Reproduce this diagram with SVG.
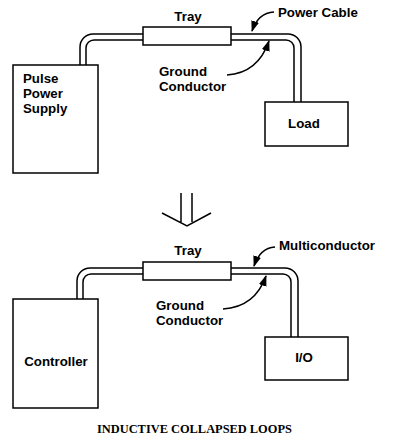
<svg xmlns="http://www.w3.org/2000/svg" width="412" height="442" viewBox="0 0 412 442">
<style>
.box{fill:#fff;stroke:#000;stroke-width:1.5}
.ln{fill:none;stroke:#000;stroke-width:1.5}
.t{font-family:"Liberation Sans",Arial,sans-serif;font-weight:bold;font-size:13.3px;fill:#000}
.cap{font-family:"Liberation Serif","Times New Roman",serif;font-weight:bold;font-size:12.4px;fill:#000}
</style>
<defs>
<marker id="ah" markerUnits="userSpaceOnUse" markerWidth="11" markerHeight="8" refX="10" refY="4" orient="auto">
<path d="M0,0 L11,4 L0,8 z" fill="#000"/>
</marker>
</defs>
<rect width="412" height="442" fill="#fff"/>
<g id="connectors">
<path class="ln" d="M80,65 V47 A13,13 0 0 1 93,34 H143"/>
<path class="ln" d="M86,65 V48 A8,8 0 0 1 94,40 H143"/>
<path class="ln" d="M231,34 H288 A13,13 0 0 1 301,47 V102"/>
<path class="ln" d="M231,40 H286 A8,8 0 0 1 294,48 V102"/>
<path class="ln" d="M77,299 V281 A13,13 0 0 1 90,268 H143"/>
<path class="ln" d="M83,299 V282 A8,8 0 0 1 91,274 H143"/>
<path class="ln" d="M231,268 H285 A13,13 0 0 1 298,281 V337"/>
<path class="ln" d="M231,274 H283 A8,8 0 0 1 291,282 V337"/>
<path class="ln" d="M274,12 Q258,13 252,31" marker-end="url(#ah)"/>
<path class="ln" d="M227,75 Q258,73 269,41" marker-end="url(#ah)"/>
<path class="ln" d="M275,247 Q260,248 254,266" marker-end="url(#ah)"/>
<path class="ln" d="M223,309 Q255,307 266,276" marker-end="url(#ah)"/>
</g>
<g id="pulse-power-supply">
<rect class="box" x="13" y="65" width="85" height="108"/>
<text class="t" x="23" y="83">Pulse</text>
<text class="t" x="23" y="98">Power</text>
<text class="t" x="23" y="113">Supply</text>
</g>
<g id="tray-top">
<rect class="box" x="143" y="27" width="88" height="18"/>
<text class="t" x="188" y="21" text-anchor="middle">Tray</text>
</g>
<g id="load">
<rect class="box" x="265" y="102" width="83" height="44"/>
<text class="t" x="304" y="128" text-anchor="middle">Load</text>
</g>
<g id="label-power-cable"><text class="t" x="278" y="17">Power Cable</text></g>
<g id="label-ground-top">
<text class="t" x="159" y="76">Ground</text>
<text class="t" x="159" y="91">Conductor</text>
</g>
<g id="down-arrow">
<path class="ln" d="M181,193 V222 M192,193 V222 M162,213 L187,226 L211,213"/>
</g>
<g id="controller">
<rect class="box" x="13" y="299" width="85" height="109"/>
<text class="t" x="56" y="366" text-anchor="middle">Controller</text>
</g>
<g id="tray-bottom">
<rect class="box" x="143" y="262" width="88" height="18"/>
<text class="t" x="188" y="255" text-anchor="middle">Tray</text>
</g>
<g id="io">
<rect class="box" x="265" y="337" width="83" height="43"/>
<text class="t" x="304" y="362" text-anchor="middle">I/O</text>
</g>
<g id="label-multiconductor"><text class="t" x="279" y="250">Multiconductor</text></g>
<g id="label-ground-bottom">
<text class="t" x="156" y="310">Ground</text>
<text class="t" x="156" y="325">Conductor</text>
</g>
<g id="caption"><text class="cap" x="97" y="433">INDUCTIVE COLLAPSED LOOPS</text></g>
</svg>
